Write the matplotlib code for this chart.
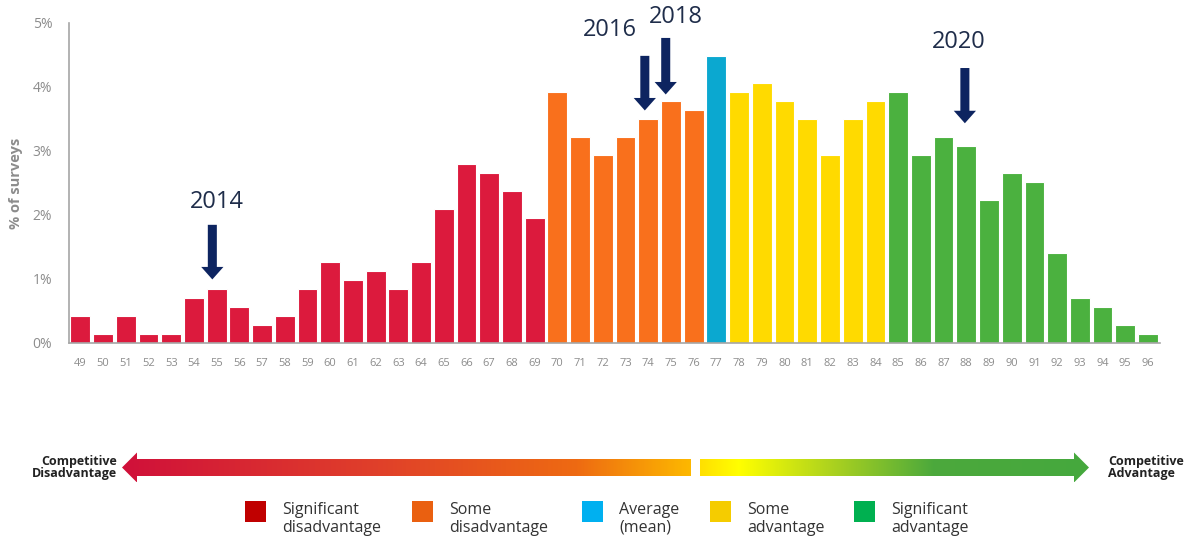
import numpy as np
import matplotlib
matplotlib.use("Agg")
import matplotlib.pyplot as plt
from matplotlib.patches import Polygon, Rectangle
from matplotlib.colors import LinearSegmentedColormap

plt.rcParams['font.family'] = ['Open Sans', 'DejaVu Sans']

scores = list(range(49, 97))
pct = [0.42, 0.14, 0.42, 0.14, 0.14, 0.70, 0.84, 0.56, 0.28, 0.42,
       0.84, 1.26, 0.98, 1.12, 0.84, 1.26, 2.10, 2.80, 2.66, 2.38,
       1.96, 3.92, 3.22, 2.94, 3.22, 3.50, 3.78, 3.64, 4.48, 3.92,
       4.06, 3.78, 3.50, 2.94, 3.50, 3.78, 3.92, 2.94, 3.22, 3.08,
       2.24, 2.66, 2.52, 1.40, 0.70, 0.56, 0.28, 0.14]
categories = ["Significant\ndisadvantage", "Some\ndisadvantage", "Average\n(mean)",
              "Some\nadvantage", "Significant\nadvantage"]
bar_colors = ["#DC1A3D", "#F9701C", "#0BA8D0", "#FFDA00", "#4BB13F"]
legend_colors = ["#C00000", "#EA6010", "#00B0F0", "#F5CC00", "#00B050"]

def cat_of(s):
    if s <= 69: return 0
    if s <= 76: return 1
    if s == 77: return 2
    if s <= 84: return 3
    return 4

yticks = [0, 1, 2, 3, 4, 5]
ytick_labels = ["0%", "1%", "2%", "3%", "4%", "5%"]
years = ["2014", "2016", "2018", "2020"]
arrow_x = [54.81, 73.85, 74.77, 87.94]
arrow_tail = [1.89, 4.53, 4.81, 4.34]
arrow_head = [0.95, 3.59, 3.84, 3.39]
label_x = [54.99, 72.30, 75.21, 87.68]
label_y = [2.20, 4.89, 5.09, 4.70]

fig = plt.figure(figsize=(12, 5.41), dpi=100)
ax = fig.add_axes([69/1200, 1-343/541, (1160-69)/1200, (343-23)/541])
cols = [bar_colors[cat_of(s)] for s in scores]
ax.bar(scores, pct, width=0.87, color=cols, edgecolor='white', linewidth=0.8, zorder=2)
ax.set_xlim(48.5, 96.53)
ax.set_ylim(0, 5)
ax.set_yticks(yticks)
ax.set_yticklabels(ytick_labels, color='#8c8c8c', fontsize=10)
ax.set_xticks(scores)
ax.set_xticklabels([str(s) for s in scores], color='#8c8c8c', fontsize=8)
ax.tick_params(axis='y', length=0, pad=12)
ax.tick_params(axis='x', length=0, pad=11)
for sp in ['top', 'right']:
    ax.spines[sp].set_visible(False)
for sp in ['left', 'bottom']:
    ax.spines[sp].set_color('#a6a6a6')
    ax.spines[sp].set_linewidth(1.2)
ax.set_ylabel("% of surveys", color='#8c8c8c', fontsize=10.5, fontweight='bold', labelpad=7)

navy = "#0D2460"
for yr, ax_x, t, h, lx, ly in zip(years, arrow_x, arrow_tail, arrow_head, label_x, label_y):
    ax.annotate("", xy=(ax_x, h), xytext=(ax_x, t),
                arrowprops=dict(arrowstyle="simple,head_width=1.6,head_length=0.9,tail_width=0.65",
                                color=navy, lw=0), zorder=5, annotation_clip=False)
    ax.text(lx, ly, yr, ha='center', va='center', fontsize=17, color='#1F2D4A',
            clip_on=False)

# overlay for gradient arrows and legend (pixel coords)
ov = fig.add_axes([0, 0, 1, 1], facecolor='none')
ov.set_xlim(0, 1200)
ov.set_ylim(541, 0)
ov.axis('off')

def grad_arrow(x0, x1, direction, cmap):
    yc, half, hh, hl = 467.5, 8.5, 15, 15
    if direction == 'left':
        tip = x0
        pts = [(tip, yc), (tip+hl, yc-hh), (tip+hl, yc-half), (x1, yc-half),
               (x1, yc+half), (tip+hl, yc+half), (tip+hl, yc+hh)]
    else:
        tip = x1
        pts = [(tip, yc), (tip-hl, yc-hh), (tip-hl, yc-half), (x0, yc-half),
               (x0, yc+half), (tip-hl, yc+half), (tip-hl, yc+hh)]
    poly = Polygon(pts, closed=True, facecolor='none', edgecolor='none')
    ov.add_patch(poly)
    grad = np.linspace(0, 1, 256).reshape(1, -1)
    im = ov.imshow(grad, cmap=cmap, extent=[x0, x1, yc+hh, yc-hh], aspect='auto', zorder=3)
    im.set_clip_path(poly)

cm_left = LinearSegmentedColormap.from_list("l", [(0, "#D0103A"), (0.45, "#E0402A"),
                                                  (0.8, "#EE6A12"), (1, "#FDB800")])
cm_right = LinearSegmentedColormap.from_list("r", [(0, "#FFE000"), (0.1, "#FFFF00"),
                                                   (0.35, "#A8D020"), (0.6, "#4CA93C"), (1, "#45A83E")])
grad_arrow(122, 691, 'left', cm_left)
grad_arrow(700, 1089, 'right', cm_right)
ov.text(117, 467, "Competitive\nDisadvantage", ha='right', va='center', fontsize=9,
        fontweight='bold', color='#222222', linespacing=0.9)
ov.text(1108, 467, "Competitive\nAdvantage", ha='left', va='center', fontsize=9,
        fontweight='bold', color='#222222', linespacing=0.9)

sq_x = [245, 412, 582, 710, 854]
for x, c, lab in zip(sq_x, legend_colors, categories):
    ov.add_patch(Rectangle((x, 501), 21, 21, facecolor=c, edgecolor='none'))
    ov.text(x + 37, 519, lab, ha='left', va='center', fontsize=11.5, color='#333333',
            linespacing=1.1)

fig.savefig("out.png", dpi=100)
